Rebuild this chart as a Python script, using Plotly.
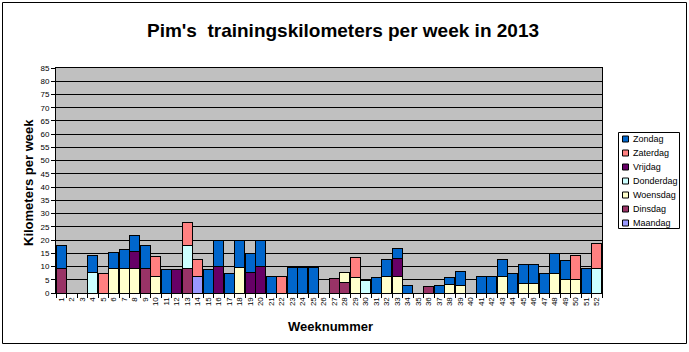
import plotly.graph_objects as go

N = None
weeks = [str(w) for w in range(1, 53)]

# kilometers per day-of-week, per week (None = no training)
maandag = [N, N, N, N, N, N, N, N, N, N, N, N, N,
           6.3, N, N, N, N, N, N, N, N, N, N, N, N,
           N, N, N, N, N, N, N, N, N, N, N, N, N,
           N, N, N, N, N, N, N, N, N, N, N, N, N]
dinsdag = [9.3, N, N, N, N, N, N, N, 9.3, N, N, N, 9.3,
           N, N, N, N, N, N, N, N, N, N, N, N, N,
           5.5, 4.0, N, N, N, N, N, N, N, 2.5, N, N, N,
           N, N, N, N, N, N, N, N, N, N, N, N, N]
woensdag = [N, N, N, N, N, 9.3, 9.3, 9.3, N, 6.4, N, N, N,
            N, N, N, N, 9.8, N, N, N, N, N, N, N, N,
            N, 3.8, 6.0, N, N, 6.4, 6.4, N, N, N, N, 3.1, 3.0,
            N, N, N, 6.4, N, 3.5, 3.5, N, 7.5, 5.0, 5.0, N, N]
donderdag = [N, N, N, 7.7, N, N, N, N, N, N, N, N, 8.8,
             N, N, N, N, N, N, N, N, N, N, N, N, N,
             N, N, N, 4.8, N, N, N, N, N, N, N, N, N,
             N, N, N, N, N, N, N, N, N, N, N, N, 9.4]
vrijdag = [N, N, N, N, N, N, N, 6.5, N, N, N, 9.0, N,
           N, N, 10.0, N, N, 7.6, 9.9, N, N, N, N, N, N,
           N, N, N, N, N, N, 6.5, N, N, N, N, N, N,
           N, N, N, N, N, N, N, N, N, N, N, N, N]
zaterdag = [N, N, N, N, 7.5, N, N, N, N, 7.4, N, N, 8.5,
            6.4, N, N, N, N, N, N, N, 6.1, N, N, N, N,
            N, N, 7.4, N, N, N, N, N, N, N, N, N, N,
            N, N, N, N, N, N, N, N, N, N, 9.0, N, 9.3]
zondag = [8.7, N, N, 6.3, N, 6.0, 7.1, 5.9, 8.7, N, 9.0, N, N,
          N, 9.0, 9.8, 7.4, 9.9, 7.2, 9.8, 6.1, N, 9.7, 9.7, 9.7, N,
          N, N, N, N, 5.8, 6.3, 3.9, 2.9, N, N, 2.9, 2.8, 5.3,
          N, 6.3, 6.3, 6.3, 7.4, 7.3, 7.3, 7.4, 7.4, 7.3, N, 9.4, N]

series = [
    ("Maandag", maandag, "#9999FF"),
    ("Dinsdag", dinsdag, "#993366"),
    ("Woensdag", woensdag, "#FFFFCC"),
    ("Donderdag", donderdag, "#CCFFFF"),
    ("Vrijdag", vrijdag, "#660066"),
    ("Zaterdag", zaterdag, "#FF8080"),
    ("Zondag", zondag, "#0066CC"),
]

FONT = "Arial, Liberation Sans, sans-serif"
W, H = 689, 352
L, R, T, B = 56, 602, 68, 293  # plot area pixels

fig = go.Figure()
for name, vals, col in series:
    fig.add_trace(go.Bar(
        x=weeks, y=vals, name=name, showlegend=False,
        marker=dict(color=col, line=dict(color="black", width=1)),
    ))

def px(x):
    return (x - L) / (R - L)

def py(y):
    return (B - y) / (B - T)

shapes = [
    # outer chart frame
    dict(type="rect", xref="paper", yref="paper",
         x0=px(2.5), x1=px(686.5), y0=py(343.5), y1=py(2.5),
         line=dict(color="black", width=1), fillcolor="rgba(0,0,0,0)",
         layer="below"),
    # legend box
    dict(type="rect", xref="paper", yref="paper",
         x0=px(618.5), x1=px(679.5), y0=py(228.5), y1=py(132.5),
         line=dict(color="black", width=1), fillcolor="white"),
]
annotations = [
    dict(text="<b>Kilometers per week</b>", xref="paper", yref="paper",
         x=px(28), y=py(183), textangle=-90, showarrow=False,
         font=dict(size=13, family=FONT), xanchor="center", yanchor="middle"),
    dict(text="<b>Weeknummer</b>", xref="paper", yref="paper",
         x=px(330), y=py(326), showarrow=False,
         font=dict(size=13, family=FONT), xanchor="center", yanchor="middle"),
]
for i, (name, vals, col) in enumerate(reversed(series)):
    cy = 139 + 14 * i
    shapes.append(dict(type="rect", xref="paper", yref="paper",
                       x0=px(622.5), x1=px(628.5), y0=py(cy + 3), y1=py(cy - 3),
                       line=dict(color="black", width=1), fillcolor=col))
    annotations.append(dict(text=name, xref="paper", yref="paper",
                            x=px(631), y=py(cy), xanchor="left", yanchor="middle",
                            showarrow=False, font=dict(size=9, family=FONT)))

fig.update_layout(
    width=W, height=H,
    margin=dict(l=L, r=W - R, t=T, b=H - B, autoexpand=False),
    barmode="stack", bargap=0.08,
    paper_bgcolor="white", plot_bgcolor="#C0C0C0",
    font=dict(family=FONT, color="black", size=9),
    title=dict(text="<b>Pim's\u00a0 trainingskilometers per week in 2013</b>",
               x=343 / W, xanchor="center", y=1 - 30 / H, yanchor="middle",
               font=dict(size=19, family=FONT)),
    showlegend=False,
    xaxis=dict(type="category", showline=True, mirror=True, linecolor="black",
               linewidth=1, ticks="outside", tickson="boundaries", ticklen=4,
               tickcolor="black", tickangle=-90, tickfont=dict(size=8),
               tickmode="array", tickvals=weeks, ticktext=weeks,
               showgrid=False, automargin=False),
    yaxis=dict(range=[0, 85], dtick=5, showline=True, mirror=True,
               linecolor="black", linewidth=1, ticks="outside", ticklen=4,
               tickcolor="black", tickfont=dict(size=8), gridcolor="black",
               gridwidth=1, zeroline=False, automargin=False),
    annotations=annotations,
    shapes=shapes,
)

fig.write_html("out.html")
